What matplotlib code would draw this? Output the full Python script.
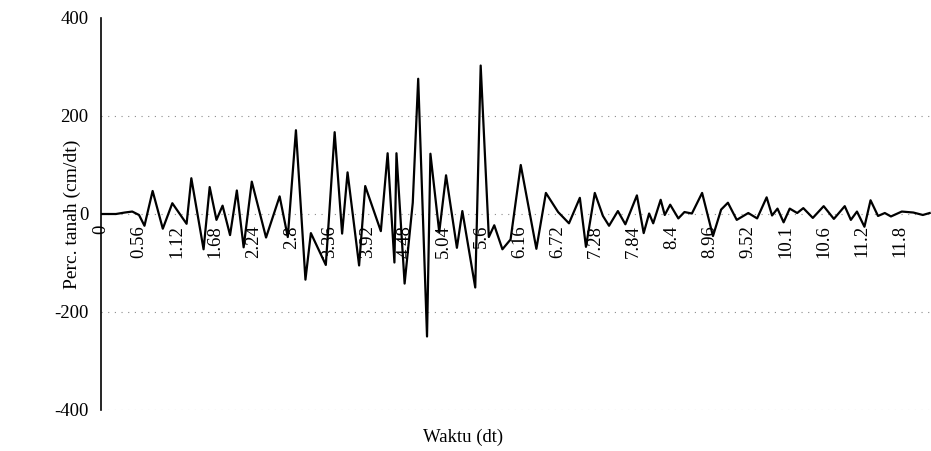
import matplotlib
matplotlib.use("Agg")
import matplotlib.pyplot as plt

# ground acceleration record, vertices
waktu = [0.00, 0.22, 0.35, 0.46, 0.56, 0.64, 0.76, 0.91, 1.05, 1.26,
         1.33, 1.51, 1.60, 1.70, 1.79, 1.90, 2.00, 2.10, 2.22, 2.43,
         2.63, 2.75, 2.87, 3.01, 3.09, 3.31, 3.44, 3.55, 3.63, 3.80,
         3.89, 4.12, 4.22, 4.32, 4.35, 4.47, 4.59, 4.67, 4.80, 4.85,
         4.98, 5.08, 5.24, 5.32, 5.51, 5.59, 5.71, 5.79, 5.91, 6.03,
         6.18, 6.41, 6.55, 6.73, 6.89, 7.05, 7.14, 7.27, 7.39, 7.48,
         7.61, 7.72, 7.89, 7.99, 8.07, 8.13, 8.24, 8.30, 8.38, 8.50,
         8.59, 8.70, 8.85, 9.01, 9.13, 9.23, 9.36, 9.53, 9.66, 9.80,
         9.88, 9.96, 10.05, 10.14, 10.25, 10.34, 10.48, 10.64, 10.79, 10.95,
         11.04, 11.13, 11.24, 11.33, 11.44, 11.54, 11.63, 11.79, 11.96, 12.10,
         12.20]
percepatan = [0, 0, 3, 5, -2, -24, 47, -30, 22, -20,
              73, -72, 55, -12, 17, -43, 48, -68, 66, -48,
              36, -47, 171, -134, -39, -104, 167, -40, 85, -105,
              57, -35, 124, -99, 124, -142, 23, 276, -250, 123,
              -37, 79, -69, 6, -150, 303, -47, -23, -72, -52,
              100, -71, 43, 4, -19, 33, -67, 43, -4, -24,
              6, -21, 38, -39, 1, -19, 29, -2, 19, -9,
              4, 1, 43, -45, 9, 23, -12, 2, -9, 34,
              -3, 11, -17, 11, 2, 12, -8, 16, -10, 16,
              -12, 5, -26, 28, -4, 2, -5, 5, 3, -2,
              2]

xtick_pos = [0, 0.56, 1.12, 1.68, 2.24, 2.80, 3.36, 3.92, 4.48, 5.04, 5.60,
             6.16, 6.72, 7.28, 7.84, 8.40, 8.96, 9.52, 10.08, 10.64, 11.20, 11.76]
xtick_lbl = ["0", "0.56", "1.12", "1.68", "2.24", "2.8", "3.36", "3.92", "4.48",
             "5.04", "5.6", "6.16", "6.72", "7.28", "7.84", "8.4", "8.96", "9.52",
             "10.1", "10.6", "11.2", "11.8"]
ytick_pos = [-400, -200, 0, 200, 400]
grid_lv = [-400, -200, 0, 200]

plt.rcParams['font.family'] = ['Liberation Serif', 'DejaVu Serif']

fig = plt.figure(figsize=(9.31, 4.51), dpi=100)
ax = fig.add_axes([101 / 931, 1 - 410 / 451, 1 - 101 / 931, 392 / 451])

for g in grid_lv:
    ax.axhline(g, color='0.55', lw=0.8, ls=(0, (1, 5)), zorder=0)

ax.plot(waktu, percepatan, color='black', lw=1.6, zorder=3)

ax.set_xlim(0, 12.22)
ax.set_ylim(-400, 400)

for s in ['top', 'right']:
    ax.spines[s].set_visible(False)
ax.spines['bottom'].set_position(('data', 0))
ax.spines['bottom'].set_visible(False)
ax.spines['left'].set_linewidth(1.2)

ax.set_xticks(xtick_pos)
ax.set_xticklabels(xtick_lbl, rotation=90, fontsize=13.5)
ax.tick_params(axis='x', length=0, pad=8)
ax.set_yticks(ytick_pos)
ax.set_yticklabels([str(v) for v in ytick_pos], fontsize=13.5)
ax.tick_params(axis='y', length=0, pad=9)

fig.text(72 / 931, 1 - 214 / 451, "Perc. tanah (cm/dt)", rotation=90,
         ha='center', va='center', fontsize=14)
fig.text(463 / 931, 1 - 437 / 451, "Waktu (dt)", ha='center', va='center',
         fontsize=13.5)

fig.savefig("out.png", dpi=100)
